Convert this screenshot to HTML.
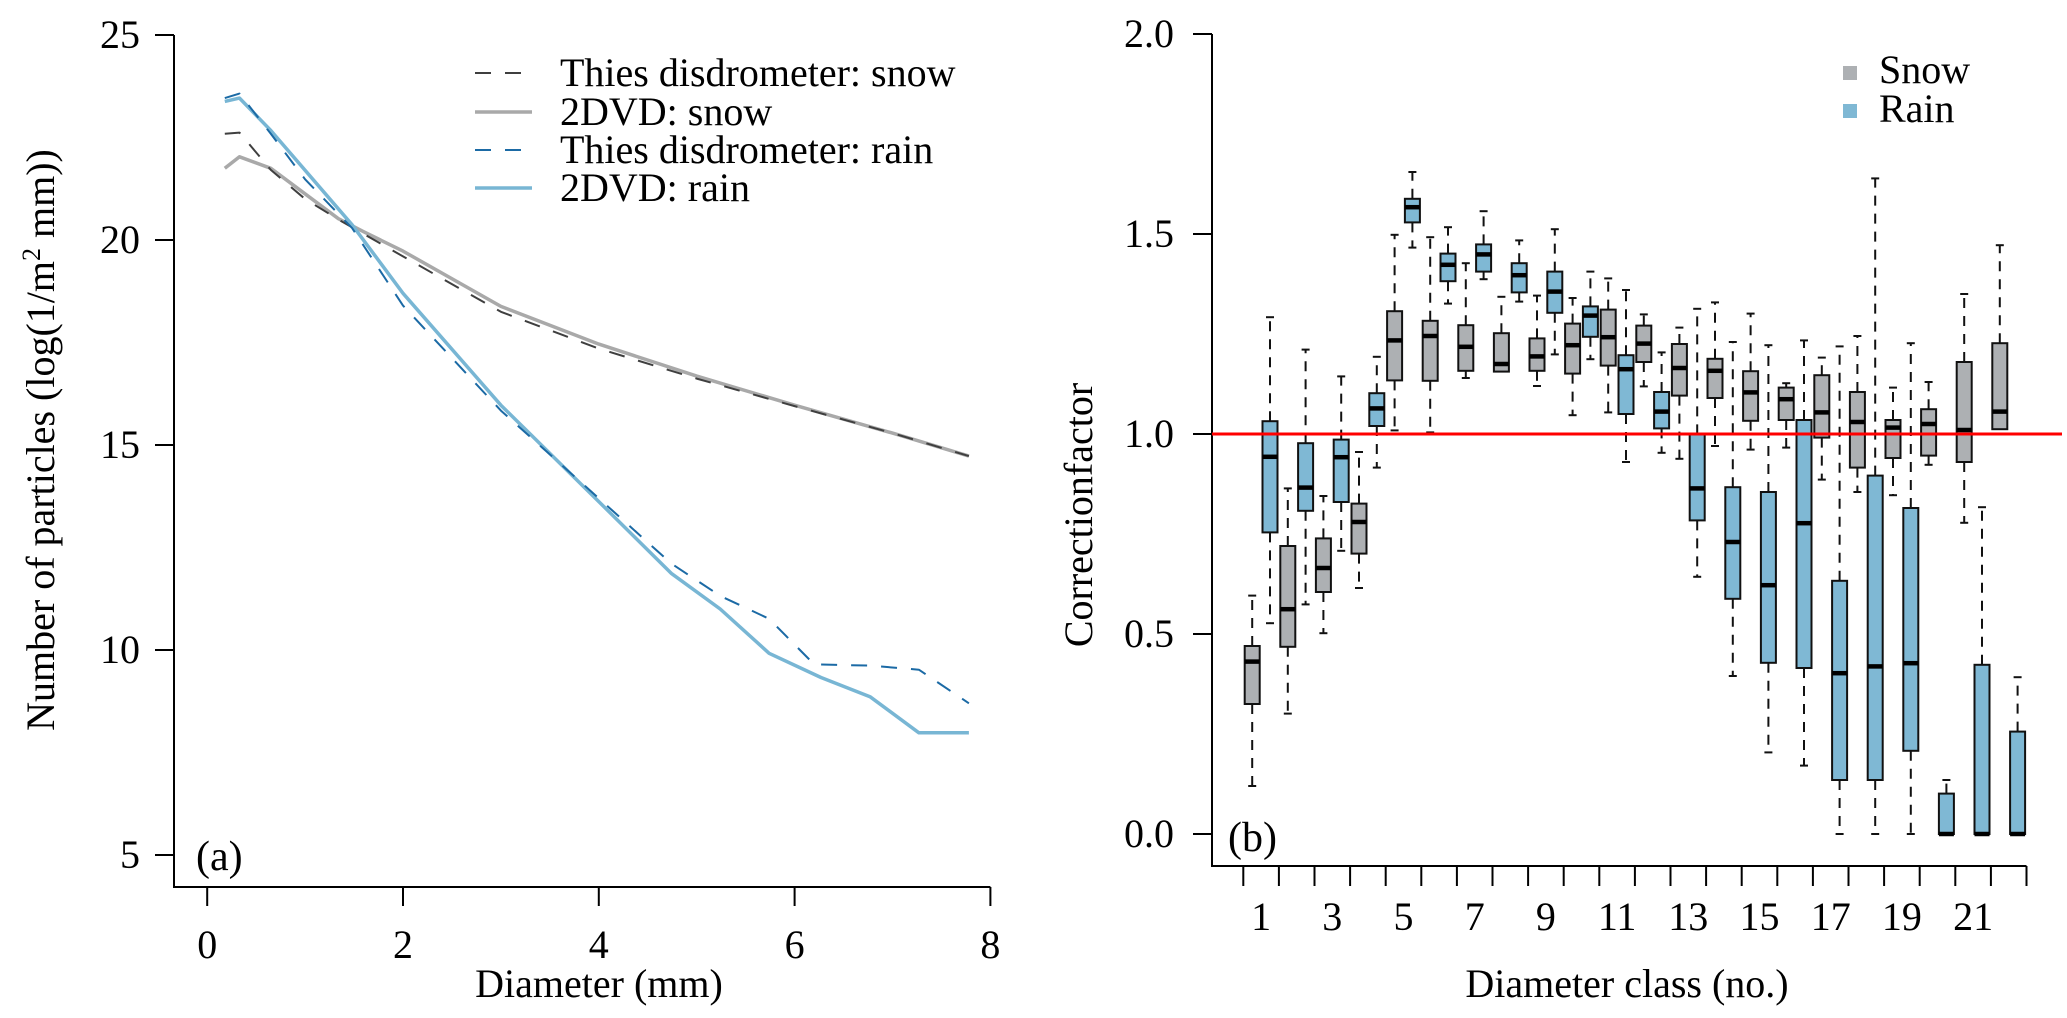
<!DOCTYPE html>
<html><head><meta charset="utf-8">
<style>
html,body{margin:0;padding:0;background:#fff;}
svg{display:block;font-family:"Liberation Serif",serif;}
</style></head>
<body>
<svg id="fig" width="2067" height="1018" viewBox="0 0 2067 1018" xmlns="http://www.w3.org/2000/svg">
<g id="panelA"></g>
<g id="panelB"></g>
</svg>
<script>
// ---- Panel (a) data ----
const thiesSnowD = [0.18,0.33,0.65,1.0,1.34,2,3,4,5,6,7,7.78];
const thiesSnowV = [22.59,22.62,21.71,21.0,20.5,19.6,18.25,17.35,16.62,15.95,15.29,14.73];
const dvdSnowD = [0.18,0.33,0.65,1.34,1.6,2,3,4,5,6,7,7.78];
const dvdSnowV = [21.75,22.03,21.75,20.52,20.2,19.73,18.38,17.46,16.68,15.97,15.29,14.73];
const thiesRainD = [0.18,0.33,0.65,1.0,1.48,2,3,4,4.74,5.24,5.74,6.2,6.77,7.27,7.78];
const thiesRainV = [23.46,23.57,22.59,21.48,20.29,18.4,15.84,13.7,12.11,11.32,10.76,9.65,9.62,9.52,8.7];
const dvdRainD = [0.18,0.33,0.65,1.48,2,3,4,4.74,5.24,5.74,6.27,6.77,7.27,7.78];
const dvdRainV = [23.38,23.46,22.67,20.37,18.7,15.97,13.62,11.87,11.0,9.92,9.33,8.86,7.98,7.98];
const aXTicks = [0,2,4,6,8];
const aYTicks = [5,10,15,20,25];
const aLegend = ["Thies disdrometer: snow","2DVD: snow","Thies disdrometer: rain","2DVD: rain"];

// ---- Panel (b) data: [low, q1, median, q3, high] per class ----
const classes = [1,2,3,4,5,6,7,8,9,10,11,12,13,14,15,16,17,18,19,20,21,22];
const snowLow  = [0.12,0.301,0.502,0.615,1.009,1.004,1.14,1.156,1.12,1.047,1.054,1.119,0.938,0.97,0.961,0.966,0.886,0.855,0.847,0.923,0.778,1.012];
const snowQ1   = [0.325,0.468,0.605,0.701,1.134,1.133,1.158,1.156,1.158,1.151,1.171,1.18,1.096,1.09,1.033,1.035,0.991,0.916,0.94,0.946,0.93,1.012];
const snowMed  = [0.431,0.562,0.665,0.78,1.234,1.245,1.218,1.175,1.194,1.222,1.242,1.226,1.165,1.158,1.104,1.087,1.054,1.03,1.016,1.025,1.01,1.056];
const snowQ3   = [0.47,0.72,0.739,0.826,1.307,1.283,1.272,1.252,1.239,1.276,1.311,1.271,1.225,1.188,1.157,1.116,1.147,1.105,1.035,1.062,1.18,1.227];
const snowHigh = [0.596,0.864,0.845,0.955,1.498,1.492,1.427,1.343,1.346,1.34,1.389,1.299,1.266,1.329,1.301,1.127,1.191,1.245,1.116,1.13,1.35,1.472];
const rainLow  = [0.527,0.574,0.708,0.916,1.466,1.326,1.387,1.331,1.199,1.187,0.93,0.953,0.643,0.395,0.204,0.171,0,0,0,0,0,0];
const rainQ1   = [0.754,0.808,0.83,1.02,1.529,1.382,1.406,1.354,1.303,1.243,1.05,1.014,0.784,0.588,0.428,0.415,0.135,0.135,0.208,0,0,0];
const rainMed  = [0.943,0.866,0.942,1.064,1.567,1.423,1.449,1.397,1.356,1.296,1.162,1.056,0.864,0.73,0.622,0.777,0.402,0.419,0.427,0,0,0];
const rainQ3   = [1.032,0.977,0.986,1.102,1.588,1.451,1.474,1.427,1.406,1.319,1.197,1.105,0.999,0.867,0.855,1.035,0.633,0.896,0.815,0.101,0.423,0.256];
const rainHigh = [1.292,1.211,1.144,1.193,1.655,1.517,1.557,1.484,1.512,1.406,1.36,1.204,1.313,1.23,1.222,1.234,1.219,1.639,1.227,0.135,0.817,0.392];
const bYTicks = [0.0,0.5,1.0,1.5,2.0];
const bXLabels = [1,3,5,7,9,11,13,15,17,19,21];
const refValue = 1.0;

const NS = "http://www.w3.org/2000/svg";
function mk(parent, tag, attrs, text){
  const e = document.createElementNS(NS, tag);
  for (const k in attrs) e.setAttribute(k, attrs[k]);
  if (text !== undefined) e.textContent = text;
  parent.appendChild(e);
  return e;
}

// ===== Panel A =====
const A = document.getElementById('panelA');
const ax = d => 207.2 + d * 97.9;
const ay = v => 35 + (25 - v) * 41.0;
let e;
e = mk(A,'path',{d:`M174,${ay(25)} V887 H${ax(8)}`,fill:'none',stroke:'#000','stroke-width':2});


aYTicks.forEach(v=>{
  e = mk(A,'line',{x1:155,x2:174,y1:ay(v),y2:ay(v),stroke:'#000','stroke-width':2});
  
  
  e = mk(A,'text',{x:140,y:ay(v)+13,'font-size':40,'text-anchor':'end'},String(v));
  
  
});
aXTicks.forEach(d=>{
  e = mk(A,'line',{x1:ax(d),x2:ax(d),y1:887,y2:906,stroke:'#000','stroke-width':2});
  
  
  e = mk(A,'text',{x:ax(d),y:958,'font-size':40,'text-anchor':'middle'},String(d));
  
  
});
e = mk(A,'text',{x:599,y:997,'font-size':40,'text-anchor':'middle'},'Diameter (mm)');


e = mk(A,'text',{x:0,y:0,'font-size':40,'text-anchor':'middle',transform:'translate(54,440) rotate(-90)'});


e.innerHTML = 'Number of particles  (log(1/m<tspan dy="-14" font-size="26">2</tspan><tspan dy="14"> mm))</tspan>';
e = mk(A,'text',{x:196,y:870,'font-size':42},'(a)');



const series = [
  {d:dvdSnowD,v:dvdSnowV,c:'#a9a9a9',w:3.5,dash:'',n:'line-2dvd-snow'},
  {d:thiesSnowD,v:thiesSnowV,c:'#3f3f3f',w:2,dash:'16,14',n:'line-thies-snow'},
  {d:dvdRainD,v:dvdRainV,c:'#78b6d4',w:3.5,dash:'',n:'line-2dvd-rain'},
  {d:thiesRainD,v:thiesRainV,c:'#1b6aa5',w:2,dash:'16,14',n:'line-thies-rain'}
];
series.forEach(s=>{
  const pts = s.d.map((d,i)=>ax(d).toFixed(1)+','+ay(s.v[i]).toFixed(1)).join(' ');
  e = mk(A,'polyline',{points:pts,fill:'none',stroke:s.c,'stroke-width':s.w,'stroke-dasharray':s.dash,'stroke-linejoin':'round'});
  
  
});
const legStyles = [
  {c:'#3f3f3f',w:2,dash:'16,14'},{c:'#a9a9a9',w:3.5,dash:''},
  {c:'#1b6aa5',w:2,dash:'16,14'},{c:'#78b6d4',w:3.5,dash:''}];
const legY = [73,112,150,188];
aLegend.forEach((t,i)=>{
  e = mk(A,'line',{x1:475,x2:532,y1:legY[i],y2:legY[i],stroke:legStyles[i].c,'stroke-width':legStyles[i].w,'stroke-dasharray':legStyles[i].dash});
  
  
  e = mk(A,'text',{x:560,y:legY[i]+13,'font-size':40},t);
  
  
});

// ===== Panel B =====
const B = document.getElementById('panelB');
const by = v => 834 - v * 400;
const tick0 = 1243.3, cw = 35.6;
const bx = (k, off) => tick0 + cw * (k - 1) + off;
e = mk(B,'path',{d:`M1212,${by(2)} V866 H${tick0 + cw*22}`,fill:'none',stroke:'#000','stroke-width':2});


bYTicks.forEach(v=>{
  e = mk(B,'line',{x1:1193,x2:1212,y1:by(v),y2:by(v),stroke:'#000','stroke-width':2});
  
  
  e = mk(B,'text',{x:1174,y:by(v)+13,'font-size':40,'text-anchor':'end'},v.toFixed(1));
  
  
});
for (let k=0;k<=classes.length;k++){
  e = mk(B,'line',{x1:tick0+cw*k,x2:tick0+cw*k,y1:866,y2:886,stroke:'#000','stroke-width':2});
  
  
}
bXLabels.forEach(c=>{
  e = mk(B,'text',{x:bx(c,cw/2),y:930,'font-size':40,'text-anchor':'middle'},String(c));
  
  
});
e = mk(B,'text',{x:1627,y:997,'font-size':40,'text-anchor':'middle'},'Diameter class (no.)');


e = mk(B,'text',{x:0,y:0,'font-size':40,'text-anchor':'middle',transform:'translate(1092,515) rotate(-90)'},'Correctionfactor');


e = mk(B,'text',{x:1228,y:851,'font-size':42},'(b)');



function drawBox(k, off, lo, q1, med, q3, hi, fill, name){
  const g = mk(B,'g',{});
  
  
  const cx = bx(k, off), hw = 7.5;
  if (hi > q3) {
    mk(g,'line',{x1:cx,x2:cx,y1:by(q3),y2:by(hi),stroke:'#111','stroke-width':2,'stroke-dasharray':'10,8'});
    mk(g,'line',{x1:cx-4,x2:cx+4,y1:by(hi),y2:by(hi),stroke:'#111','stroke-width':2});
  }
  if (lo < q1) {
    mk(g,'line',{x1:cx,x2:cx,y1:by(q1),y2:by(lo),stroke:'#111','stroke-width':2,'stroke-dasharray':'10,8'});
    mk(g,'line',{x1:cx-4,x2:cx+4,y1:by(lo),y2:by(lo),stroke:'#111','stroke-width':2});
  }
  mk(g,'rect',{x:cx-hw,y:by(q3),width:hw*2,height:Math.max(by(q1)-by(q3),0.5),fill:fill,stroke:'#111','stroke-width':2});
  mk(g,'line',{x1:cx-hw,x2:cx+hw,y1:by(med),y2:by(med),stroke:'#000','stroke-width':4.5});
}
classes.forEach((c,i)=>{
  drawBox(c, 8.9, snowLow[i], snowQ1[i], snowMed[i], snowQ3[i], snowHigh[i], '#adb0b3', 'box-snow-'+c);
  drawBox(c, 26.7, rainLow[i], rainQ1[i], rainMed[i], rainQ3[i], rainHigh[i], '#7fb8d4', 'box-rain-'+c);
});
e = mk(B,'line',{x1:1212,x2:2062,y1:by(refValue),y2:by(refValue),stroke:'#ff0000','stroke-width':3});



e = mk(B,'rect',{x:1843,y:66,width:14,height:14,fill:'#adb0b3'});


e = mk(B,'text',{x:1879,y:83,'font-size':40},'Snow');


e = mk(B,'rect',{x:1843,y:104,width:14,height:14,fill:'#7fb8d4'});


e = mk(B,'text',{x:1879,y:122,'font-size':40},'Rain');


</script>
</body></html>
